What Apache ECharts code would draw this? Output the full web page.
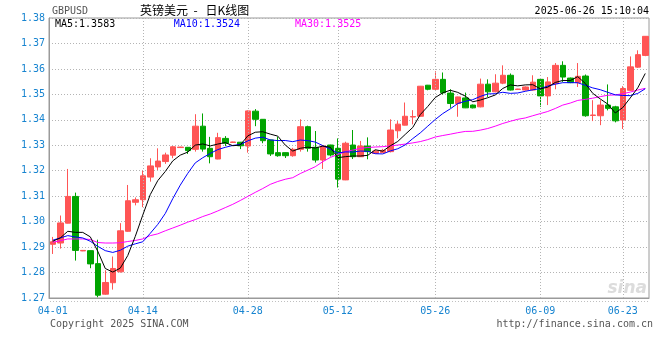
<!DOCTYPE html>
<html><head><meta charset="utf-8">
<script src="https://cdn.jsdelivr.net/npm/echarts/dist/echarts.min.js"></script>
<style>html,body{margin:0;padding:0;background:#fff}#c{width:660px;height:360px}</style>
</head><body><div id="c"></div>
<script>
const dates = ['04-01','04-02','04-03','04-04','04-05','04-07','04-08','04-09','04-10','04-11','04-12','04-13','04-14',
'04-15','04-16','04-17','04-18','04-19','04-20','04-21','04-22','04-23','04-24','04-25','04-26','04-27','04-28',
'04-29','04-30','05-01','05-02','05-03','05-05','05-06','05-07','05-08','05-09','05-10','05-12',
'05-13','05-14','05-15','05-16','05-17','05-19','05-20','05-21','05-22','05-23','05-24','05-25','05-26',
'05-27','05-28','05-29','05-30','05-31','06-01','06-02','06-03','06-04','06-05','06-06','06-07','06-08','06-09',
'06-10','06-11','06-12','06-13','06-16','06-17','06-18','06-19','06-20','06-21','06-23',
'06-24','06-25','06-26'];
const openP = [1.2911,1.2916,1.2994,1.3099,1.2885,1.2886,1.2835,1.2715,1.2760,1.2803,1.2962,1.3076,1.3086,
1.3175,1.3215,1.3236,1.3261,1.3291,1.3292,1.3284,1.3375,1.3288,1.3246,1.3327,1.3311,1.3312,1.3297,
1.3434,1.3402,1.3321,1.3271,1.3271,1.3259,1.3284,1.3373,1.3292,1.3242,1.3301,1.3288,
1.3164,1.3301,1.3255,1.3297,1.3268,1.3271,1.3275,1.3357,1.3379,1.3411,1.3414,1.3536,1.3520,
1.3559,1.3505,1.3464,1.3486,1.3458,1.3451,1.3540,1.3510,1.3544,1.3575,1.3519,1.3517,1.3517,1.3559,
1.3494,1.3542,1.3614,1.3564,1.3546,1.3572,1.3417,1.3416,1.3458,1.3451,1.3399,
1.3516,1.3607,1.3653];
const closeP = [1.2921,1.2995,1.3099,1.2887,1.2887,1.2834,1.2711,1.2761,1.2816,1.2964,1.3082,1.3086,1.3180,
1.3219,1.3238,1.3262,1.3294,1.3293,1.3279,1.3375,1.3285,1.3255,1.3330,1.3308,1.3313,1.3298,1.3435,
1.3402,1.3318,1.3266,1.3259,1.3259,1.3284,1.3373,1.3288,1.3242,1.3297,1.3262,1.3167,
1.3308,1.3255,1.3297,1.3275,1.3277,1.3280,1.3360,1.3383,1.3414,1.3413,1.3532,1.3520,1.3559,
1.3506,1.3464,1.3490,1.3447,1.3447,1.3540,1.3510,1.3544,1.3575,1.3517,1.3521,1.3529,1.3548,1.3494,
1.3549,1.3614,1.3568,1.3546,1.3571,1.3416,1.3419,1.3458,1.3445,1.3396,1.3523,
1.3608,1.3656,1.3728];
const lowP = [1.2873,1.2894,1.2993,1.2847,1.2884,1.2817,1.2703,1.2713,1.2733,1.2800,1.2960,1.3064,1.3057,
1.3157,1.3203,1.3227,1.3249,1.3290,1.3266,1.3275,1.3275,1.3229,1.3245,1.3297,1.3310,1.3285,1.3271,
1.3375,1.3308,1.3258,1.3255,1.3250,1.3255,1.3275,1.3275,1.3232,1.3207,1.3256,1.3134,
1.3163,1.3246,1.3254,1.3245,1.3266,1.3270,1.3272,1.3327,1.3378,1.3382,1.3412,1.3516,1.3516,
1.3499,1.3447,1.3412,1.3446,1.3445,1.3449,1.3490,1.3508,1.3540,1.3515,1.3518,1.3515,1.3515,1.3451,
1.3458,1.3520,1.3549,1.3544,1.3529,1.3412,1.3395,1.3379,1.3437,1.3390,1.3364,
1.3514,1.3604,1.3650];
const highP = [1.2940,1.3024,1.3207,1.3114,1.2888,1.2887,1.2929,1.2809,1.2863,1.2994,1.3144,1.3095,1.3200,
1.3249,1.3288,1.3271,1.3297,1.3294,1.3293,1.3422,1.3425,1.3333,1.3349,1.3336,1.3314,1.3313,1.3437,
1.3442,1.3403,1.3322,1.3333,1.3272,1.3290,1.3402,1.3377,1.3356,1.3298,1.3302,1.3327,
1.3314,1.3360,1.3317,1.3331,1.3282,1.3286,1.3402,1.3395,1.3468,1.3438,1.3533,1.3537,1.3591,
1.3586,1.3520,1.3491,1.3507,1.3460,1.3562,1.3559,1.3579,1.3614,1.3582,1.3522,1.3531,1.3575,1.3564,
1.3568,1.3623,1.3630,1.3566,1.3623,1.3578,1.3477,1.3477,1.3539,1.3455,1.3532,
1.3649,1.3673,1.3729];
const ma5Head = [1.2923,1.2936,1.2962,1.2958];
const ma10Head = [1.2927,1.2936,1.2945,1.2940,1.2936,1.2923,1.2903,1.2886,1.2879];
const ma30Head = [1.2919,1.2925,1.2932,1.2932,1.2932,1.2930,1.2918,1.2916,1.2916,1.2917,1.2922,1.2926,1.2932,
1.2945,1.2952,1.2964,1.2975,1.2986,1.2998,1.3008,1.3020,1.3030,1.3042,1.3055,1.3068,1.3083,1.3099,1.3115,1.3130];
const labelDates = ['04-01','04-14','04-28','05-12','05-26','06-09','06-23'];
const gridDates = ['04-14','04-28','05-12','05-26','06-09','06-23'];
const legendNames = ['MA5','MA10','MA30'];
const legendVals = ['1.3583','1.3524','1.3525'];
const symbolName = 'GBPUSD';
const titleText = '英镑美元  -   日K线图';
const stampText = '2025-06-26 15:10:04';
const footLeft = 'Copyright 2025 SINA.COM';
const footRight = 'http://finance.sina.com.cn';

function movingAvg(n, head) {
  return closeP.map((c, i) => {
    if (i < n - 1) return head[i];
    let s = 0;
    for (let k = i - n + 1; k <= i; k++) s += closeP[k];
    return +(s / n).toFixed(5);
  });
}

const UP = '#ff5555', DOWN = '#00a400';
const AX = '#1784d0';
const MONO = '"DejaVu Sans Mono", monospace';

const chart = echarts.init(document.getElementById('c'), null, {renderer: 'canvas'});
function txt(text, x, y, align, fill, font) {
  return {type: 'text', x: x, y: y, silent: true, z: 100,
    style: {text: text, fill: fill, font: font, align: align, verticalAlign: 'middle',
      textAlign: align, textVerticalAlign: 'middle'}};
}
chart.setOption({
  animation: false,
  backgroundColor: '#fff',
  grid: {left: 49, right: 11, top: 18, bottom: 62, show: true, borderColor: '#9a9a9a', borderWidth: 1},
  xAxis: {
    type: 'category', data: dates, boundaryGap: true,
    axisLine: {show: true, lineStyle: {color: '#9a9a9a'}},
    axisTick: {show: false},
    axisLabel: {interval: (i, v) => labelDates.includes(v), color: AX, fontFamily: MONO, fontSize: 10, margin: 8},
    splitLine: {show: false}
  },
  yAxis: {
    type: 'value', min: 1.27, max: 1.38, interval: 0.01, scale: true,
    axisLine: {show: true, lineStyle: {color: '#9a9a9a'}},
    axisTick: {show: false},
    axisLabel: {formatter: v => v.toFixed(2), color: AX, fontFamily: MONO, fontSize: 10, margin: 4},
    splitLine: {show: true, lineStyle: {color: '#b4b4b4', type: [1, 2], width: 1}}
  },
  series: [
    {
      type: 'candlestick', barWidth: 6,
      data: dates.map((d, i) => [openP[i], closeP[i], lowP[i], highP[i]]),
      itemStyle: {color: UP, color0: DOWN, borderColor: UP, borderColor0: DOWN, borderWidth: 1},
      markLine: {
        silent: true, symbol: ['none', 'none'], label: {show: false},
        lineStyle: {color: '#b4b4b4', type: [1, 2], width: 1},
        data: gridDates.map(d => ({xAxis: d}))
      }
    },
    {type: 'line', data: movingAvg(30, ma30Head), symbol: 'none', z: 5, lineStyle: {color: '#ff00ff', width: 1}},
    {type: 'line', data: movingAvg(10, ma10Head), symbol: 'none', z: 6, lineStyle: {color: '#0000ff', width: 1}},
    {type: 'line', data: movingAvg(5, ma5Head), symbol: 'none', z: 7, lineStyle: {color: '#000000', width: 1}}
  ],
  graphic: [
    txt(symbolName, 52, 11.5, 'left', '#555', '10px ' + MONO),
    txt(titleText, 140, 10, 'left', '#000', '12px "Noto Sans CJK SC"'),
    txt(stampText, 649, 11.5, 'right', '#000', '10px ' + MONO),
    txt(legendNames[0] + ':' + legendVals[0], 55, 24, 'left', '#000', '10px ' + MONO),
    txt(legendNames[1] + ':' + legendVals[1], 240, 24, 'right', '#0000ff', '10px ' + MONO),
    txt(legendNames[2] + ':' + legendVals[2], 295, 24, 'left', '#ff00ff', '10px ' + MONO),
    txt(footLeft, 50, 324, 'left', '#555', '10px ' + MONO),
    txt(footRight, 653, 324, 'right', '#555', '10px ' + MONO),
    {type: 'text', x: 647, y: 289, silent: true, z: 1,
      style: {text: 'sina', fill: '#dcdcdc', font: 'italic bold 17px "DejaVu Sans"', align: 'right', verticalAlign: 'middle', textAlign: 'right', textVerticalAlign: 'middle'}},
    {type: 'line', silent: true, z: 1, shape: {x1: 50, y1: 301.5, x2: 650, y2: 301.5},
      style: {stroke: '#c0c0c0', lineWidth: 1, lineDash: [1, 2]}}
  ]
});
</script></body></html>
